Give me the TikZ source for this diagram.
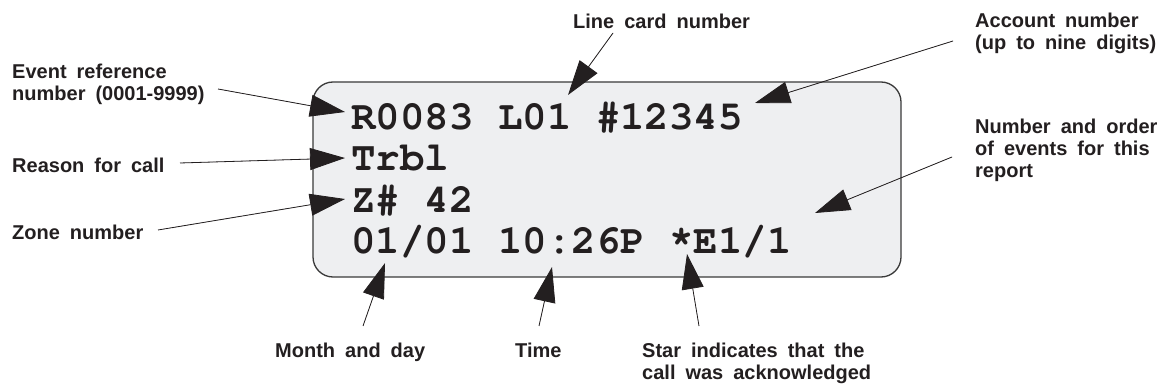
\documentclass[tikz,border=0pt]{standalone}
\usepackage{fontspec}
\usetikzlibrary{arrows.meta}
\newfontfamily\labfont{Liberation Sans}[WordSpace=1.8]
\newfontfamily\lcdfont{texgyrecursor-bold.otf}
\definecolor{ink}{HTML}{231F20}
\definecolor{lcdfill}{HTML}{EEEFF1}
\definecolor{lcdedge}{HTML}{3A3A3A}
\begin{document}
\begin{tikzpicture}[x=1pt,y=-1pt,
  lbl/.style={inner sep=0pt, anchor=base west, align=left, text=ink,
    font=\labfont\bfseries\fontsize{20}{22}\selectfont},
  lcd/.style={inner sep=0pt, anchor=base west, text=ink,
    font=\lcdfont\fontsize{40.8}{41.5}\selectfont},
  ptr/.style={draw=ink, line width=0.8pt,
    -{Triangle[length=35pt,width=22pt]}, fill=ink}
]
\path[use as bounding box] (0,0) rectangle (1157,387);
\path[fill=white] (0,0) rectangle (1157,387);

% display box
\draw[fill=lcdfill, draw=lcdedge, line width=1.3pt, rounded corners=20pt]
  (313,82) rectangle (901,277);
\node[lcd] (l1) at (351,130) {R0083 L01 \#12345};
\node[lcd] (l2) at (351,171) {Trbl};
\node[lcd] (l3) at (351,213) {Z\# 42};
\node[lcd] (l4) at (351,254) {01/01 10:26P *E1/1};

% labels (base anchor = baseline of the last line)
\node[lbl] (ev) at (12,101) {Event reference\\number (0001-9999)};
\node[lbl] (rs) at (12,173) {Reason for call};
\node[lbl] (zn) at (12,240) {Zone number};
\node[lbl] (lc) at (573,29) {Line card number};
\node[lbl] (ac) at (975,50) {Account number\\(up to nine digits)};
\node[lbl] (no) at (975,178) {Number and order\\of events for this\\report};
\node[lbl] (md) at (275,358) {Month and day};
\node[lbl] (tm) at (515,358) {Time};
\node[lbl] (st) at (642,380) {Star indicates that the\\call was acknowledged};

% connector ends
\coordinate (evS) at (218,89);  \coordinate (evT) at (345,112);
\coordinate (rsS) at (180,163); \coordinate (rsT) at (345,158);
\coordinate (znS) at (158,230); \coordinate (znT) at (345,199);
\coordinate (lcS) at (613,33);  \coordinate (lcT) at (568,95);
\coordinate (acS) at (953,41);  \coordinate (acT) at (755,103);
\coordinate (noS) at (952,157); \coordinate (noT) at (815,213);
\coordinate (mdS) at (363,326); \coordinate (mdT) at (385,263);
\coordinate (tmS) at (539,326); \coordinate (tmT) at (552,267);
\coordinate (stS) at (699,326); \coordinate (stT) at (687,254);

\foreach \n in {ev,rs,zn,lc,ac,no,md,tm,st}
  \draw[ptr] (\n S) -- (\n T);
\end{tikzpicture}
\end{document}
